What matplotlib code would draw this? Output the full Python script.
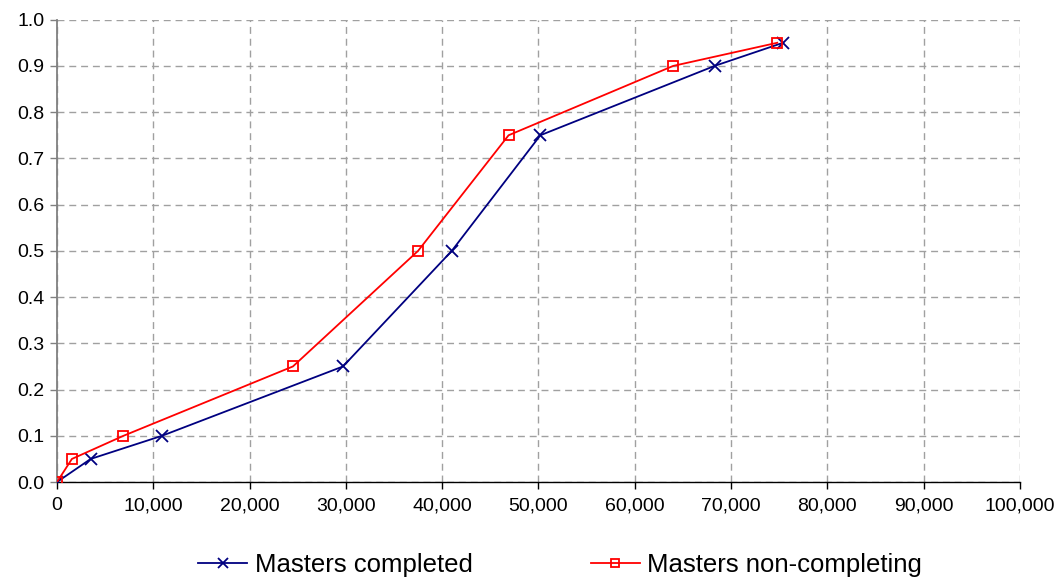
import matplotlib

matplotlib.use("Agg")

import matplotlib.pyplot as plt
from matplotlib.ticker import FuncFormatter, MultipleLocator

plt.rcParams["font.family"] = ["Liberation Sans", "DejaVu Sans"]

percentiles = [0.0, 0.05, 0.10, 0.25, 0.50, 0.75, 0.90, 0.95]
completed_x = [0, 3500, 10900, 29700, 41000, 50200, 68300, 75400]
noncompleting_x = [0, 1550, 6900, 24500, 37500, 46900, 64000, 74800]

fig = plt.figure(figsize=(10.61, 5.78), dpi=100)
fig.patch.set_facecolor("white")
ax = fig.add_axes([0.0537, 0.166, 0.9076, 0.800])

ax.plot(completed_x, percentiles, color="#000080", linewidth=1.3, marker="x",
        markersize=9, markeredgewidth=1.3, label="Masters completed", zorder=3)
ax.plot(noncompleting_x, percentiles, color="#FF0000", linewidth=1.3, marker="s",
        markersize=7.5, markerfacecolor="none", markeredgewidth=1.3,
        label="Masters non-completing", zorder=3)

ax.set_xlim(0, 100000)
ax.set_ylim(0, 1.0)
ax.xaxis.set_major_locator(MultipleLocator(10000))
ax.yaxis.set_major_locator(MultipleLocator(0.1))
ax.xaxis.set_major_formatter(FuncFormatter(lambda v, _: f"{v:,.0f}"))
ax.yaxis.set_major_formatter(FuncFormatter(lambda v, _: f"{v:.1f}"))

ax.grid(True, color="#a0a0a0", linestyle=(0, (5, 3.5)), linewidth=1.0)
ax.set_axisbelow(True)

for side in ("top", "right"):
    ax.spines[side].set_visible(False)
ax.spines["left"].set_color("#808080")
ax.spines["left"].set_linewidth(1.3)
ax.spines["bottom"].set_color("black")
ax.spines["bottom"].set_linewidth(1.0)

ax.tick_params(axis="y", direction="out", length=5, width=1.0, color="#808080",
               labelsize=14, pad=4)
ax.tick_params(axis="x", direction="out", length=5, width=1.0, color="black",
               labelsize=14, pad=6)

fig.legend(loc="center", bbox_to_anchor=(0.528, 0.022), ncol=2, frameon=False,
           fontsize=18.5, handlelength=1.9, handletextpad=0.3, columnspacing=4.6,
           borderaxespad=0, markerscale=0.8)

fig.savefig("out.png", dpi=100, facecolor="white")
